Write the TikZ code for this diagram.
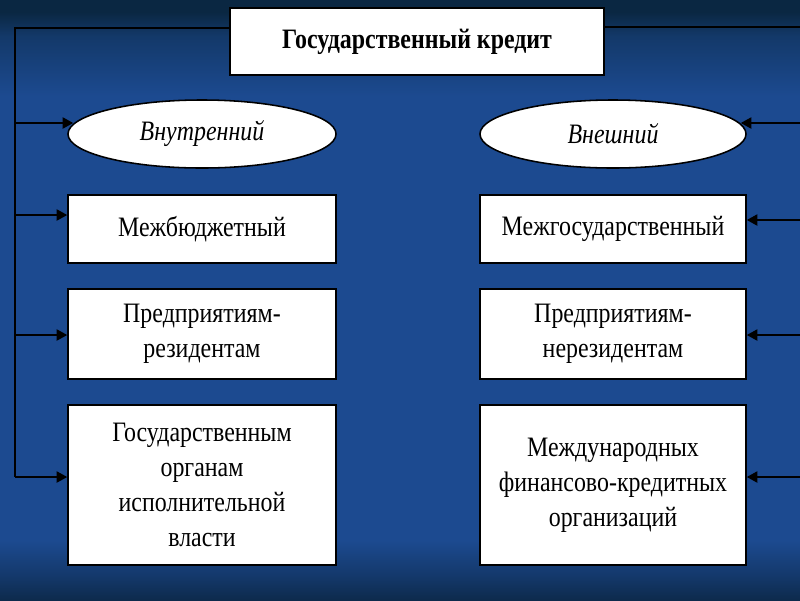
\documentclass[tikz,border=0pt]{standalone}
\usepackage{fontspec}
\setmainfont{Liberation Serif}
\newfontfamily\slidefont[FakeStretch=0.85]{Liberation Serif}
\usetikzlibrary{shapes.geometric,positioning,calc,arrows.meta}

\definecolor{bgtop}{HTML}{0A2742}
\definecolor{bgmid}{HTML}{1C4A90}
\definecolor{bgbot}{HTML}{0D2A4C}
% 100bp shading, middle 50bp is the picture (1px = 1/12bp)
\pgfdeclareverticalshading{slidebg}{100bp}{
  color(0bp)=(bgbot); color(25bp)=(bgbot); color(27bp)=(bgbot!55!bgmid);
  color(30bp)=(bgmid); color(67bp)=(bgmid); color(72bp)=(bgtop!50!bgmid);
  color(74bp)=(bgtop); color(100bp)=(bgtop)}

\tikzset{
  box/.style={draw=black, line width=1.1pt, fill=white, align=center,
    inner sep=2pt, font=\slidefont\fontsize{20}{25}\selectfont},
  oval/.style={ellipse, draw=black, line width=1.1pt, fill=white,
    inner sep=0pt, font=\slidefont\fontsize{20}{25}\selectfont\itshape},
  bus/.style={line width=1pt, black},
  feed/.style={line width=1pt, black, -{Triangle[length=7.5pt,width=8pt]}}
}

\begin{document}
\begin{tikzpicture}[x=0.025cm, y=-0.025cm]
    \useasboundingbox (0,0) rectangle (800,600);
    \shade[shading=slidebg] (0,0) rectangle (800,600);

    % title
    \node [box, minimum width=9.35cm, minimum height=1.675cm,
      font=\slidefont\fontsize{20}{25}\selectfont\bfseries] (credit) at (417,41.5) {Государственный кредит};

    % left column
    \node [oval, minimum width=6.7cm, minimum height=1.7cm] (inner) at (202,134) {Внутренний};
    \node [box, minimum width=6.7cm, minimum height=1.7cm] (budget) at (202,229) {Межбюджетный};
    \node [box, minimum width=6.7cm, minimum height=2.25cm] (resid) at (202,334) {Предприятиям-\\резидентам};
    \node [box, minimum width=6.7cm, minimum height=4cm] (organs) at (202,485) {Государственным\\органам\\исполнительной\\власти};

    % right column
    \node [oval, minimum width=6.65cm, minimum height=1.7cm] (outer) at (613,134) {Внешний};
    \node [box, minimum width=6.65cm, minimum height=1.7cm] (states) at (613,229) {Межгосударственный};
    \node [box, minimum width=6.65cm, minimum height=2.25cm] (nonres) at (613,334) {Предприятиям-\\нерезидентам};
    \node [box, minimum width=6.65cm, minimum height=4cm] (intl) at (613,485) {Международных\\финансово-кредитных\\организаций};

    % buses
    \coordinate (ltop) at (15,28);
    \coordinate (rtop) at (803,27);
    \coordinate (l1) at (15,123);
    \coordinate (l2) at (15,215);
    \coordinate (l3) at (15,335);
    \coordinate (l4) at (15,477);
    \coordinate (r1) at (803,123);
    \coordinate (r2) at (803,220);
    \coordinate (r3) at (803,335);
    \coordinate (r4) at (803,477);

    \draw [bus] (credit.west |- ltop) -- (ltop) -- (l4);
    \draw [bus] (credit.east |- rtop) -- (rtop) -- (r4);

    \draw [feed] (l1) -- ($(l1 -| inner.west)+(6,0)$);
    \draw [feed] (l2) -- (l2 -| budget.west);
    \draw [feed] (l3) -- (l3 -| resid.west);
    \draw [feed] (l4) -- (l4 -| organs.west);

    \draw [feed] (r1) -- ($(r1 -| outer.east)+(-6,0)$);
    \draw [feed] (r2) -- (r2 -| states.east);
    \draw [feed] (r3) -- (r3 -| nonres.east);
    \draw [feed] (r4) -- (r4 -| intl.east);
\end{tikzpicture}
\end{document}
